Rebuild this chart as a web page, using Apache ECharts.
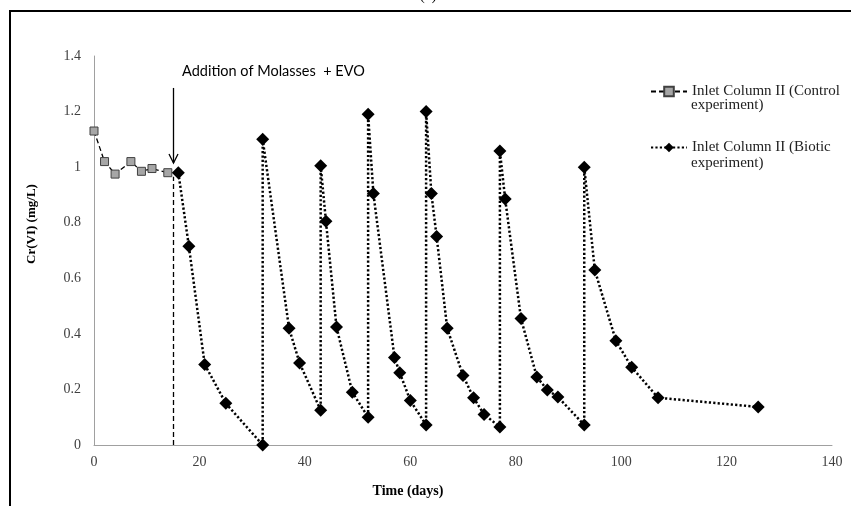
<!DOCTYPE html>
<html>
<head>
<meta charset="utf-8">
<style>
  html, body { margin: 0; padding: 0; background: #fff; }
  #chart { width: 851px; height: 506px; }
</style>
<script src="https://cdn.jsdelivr.net/npm/echarts@6/dist/echarts.min.js"></script>
</head>
<body>
<div id="chart"></div>
<script>
// Cr(VI) at the column inlet over time
const controlDays = [0, 2, 4, 7, 9, 11, 14];
const controlCr = [1.13, 1.02, 0.975, 1.02, 0.985, 0.995, 0.98];

const bioticDays = [16, 18, 21, 25, 32, 32, 37, 39, 43, 43, 44, 46, 49, 52, 52, 53, 57, 58, 60,
  63, 63, 64, 65, 67, 70, 72, 74, 77, 77, 78, 81, 84, 86, 88, 93, 93, 95, 99, 102, 107, 126];
const bioticCr = [0.98, 0.715, 0.29, 0.15, 0.0, 1.10, 0.42, 0.295, 0.125, 1.005, 0.805, 0.425, 0.19, 0.10, 1.19, 0.905, 0.315, 0.26, 0.16,
  0.072, 1.20, 0.905, 0.75, 0.42, 0.25, 0.17, 0.11, 0.065, 1.058, 0.885, 0.455, 0.245, 0.198, 0.173, 0.072, 1.0, 0.63, 0.375, 0.28, 0.17, 0.137];

// legend entries wrap onto a second line
const seriesNames = ['Inlet Column II (Control', 'Inlet Column II (Biotic'];
const legendTail = 'experiment)';
const additionDay = 15;
const additionText = 'Addition of Molasses  + EVO';
const xTitle = 'Time (days)';
const yTitle = 'Cr(VI) (mg/L)';

const zip = (xs, ys) => xs.map((x, i) => [x, ys[i]]);

const chart = echarts.init(document.getElementById('chart'));

const serif = '"Liberation Serif", "DejaVu Serif", serif';
const legendFont = { fontFamily: serif, fontSize: 15, color: '#222' };

chart.setOption({
  animation: false,
  grid: { left: 94, right: 19, top: 56, bottom: 61, containLabel: false },
  xAxis: {
    type: 'value', min: 0, max: 140, interval: 20,
    axisLine: { lineStyle: { color: '#a0a0a0', width: 1 } },
    axisTick: { show: false },
    splitLine: { show: false },
    axisLabel: { color: '#404040', fontFamily: serif, fontSize: 14, margin: 10 }
  },
  yAxis: {
    type: 'value', min: 0, max: 1.4, interval: 0.2,
    axisLine: { show: true, lineStyle: { color: '#a0a0a0', width: 1 } },
    axisTick: { show: false },
    splitLine: { show: false },
    axisLabel: { color: '#404040', fontFamily: serif, fontSize: 14, margin: 13 }
  },
  legend: {
    orient: 'vertical',
    left: 645, top: 79,
    padding: 5,
    itemWidth: 36, itemHeight: 12,
    itemGap: 41,
    data: seriesNames,
    textStyle: legendFont
  },
  series: [
    {
      name: seriesNames[0],
      type: 'line',
      data: zip(controlDays, controlCr),
      symbol: 'rect', symbolSize: 8,
      itemStyle: { color: '#a6a6a6', borderColor: '#404040', borderWidth: 1 },
      lineStyle: { color: '#000', width: 1.3, type: [5, 3] },
      markLine: {
        silent: true, symbol: 'none',
        label: { show: false },
        lineStyle: { color: '#000', width: 1.3, type: [5, 3] },
        data: [[{ coord: [additionDay, 0] }, { coord: [additionDay, 0.965] }]]
      },
      z: 3
    },
    {
      name: seriesNames[1],
      type: 'line',
      data: zip(bioticDays, bioticCr),
      symbol: 'diamond', symbolSize: 13,
      itemStyle: { color: '#000' },
      lineStyle: { color: '#000', width: 2.5, type: [2.2, 2.2] },
      z: 4
    }
  ]
});

// arrow and text marking the molasses + EVO addition
const arrowTop = chart.convertToPixel({ gridIndex: 0 }, [additionDay, 1.285]);
const arrowTip = chart.convertToPixel({ gridIndex: 0 }, [additionDay, 1.015]);
const textPos = chart.convertToPixel({ gridIndex: 0 }, [additionDay + 1.7, 1.345]);
const x0 = Math.round(arrowTop[0]) + 0.5;

chart.setOption({
  graphic: [
    {
      type: 'rect', silent: true,
      shape: { x: 10, y: 11, width: 900, height: 600 },
      style: { fill: 'none', stroke: '#000', lineWidth: 2 }
    },
    {
      type: 'text', silent: true, left: 420, top: -11,
      style: { text: '(b)', fontFamily: serif, fontSize: 14, fill: '#000' }
    },
    {
      type: 'line', silent: true,
      shape: { x1: x0, y1: arrowTop[1], x2: x0, y2: arrowTip[1] },
      style: { stroke: '#000', lineWidth: 1.3 }
    },
    {
      type: 'polyline', silent: true,
      shape: { points: [[x0 - 4.5, arrowTip[1] - 9], [x0, arrowTip[1]], [x0 + 4.5, arrowTip[1] - 9]] },
      style: { stroke: '#000', lineWidth: 1.3, fill: 'none' }
    },
    {
      type: 'text', silent: true,
      x: textPos[0], y: textPos[1],
      style: { text: additionText, fontFamily: 'Lato, "Liberation Sans", sans-serif', fontSize: 14.5, fill: '#000', verticalAlign: 'middle' }
    },
    {
      type: 'text', silent: true, x: 691, y: 105,
      style: { text: legendTail, fontFamily: legendFont.fontFamily, fontSize: legendFont.fontSize, fill: legendFont.color, verticalAlign: 'middle' }
    },
    {
      type: 'text', silent: true, x: 691, y: 163,
      style: { text: legendTail, fontFamily: legendFont.fontFamily, fontSize: legendFont.fontSize, fill: legendFont.color, verticalAlign: 'middle' }
    },
    {
      type: 'text', silent: true,
      x: 32, y: 224, rotation: Math.PI / 2,
      style: { text: yTitle, fontFamily: serif, fontWeight: 'bold', fontSize: 13, fill: '#000', align: 'center', verticalAlign: 'middle' }
    },
    {
      type: 'text', silent: true,
      x: 408, y: 491,
      style: { text: xTitle, fontFamily: serif, fontWeight: 'bold', fontSize: 14, fill: '#000', align: 'center', verticalAlign: 'middle' }
    }
  ]
});
</script>
</body>
</html>
